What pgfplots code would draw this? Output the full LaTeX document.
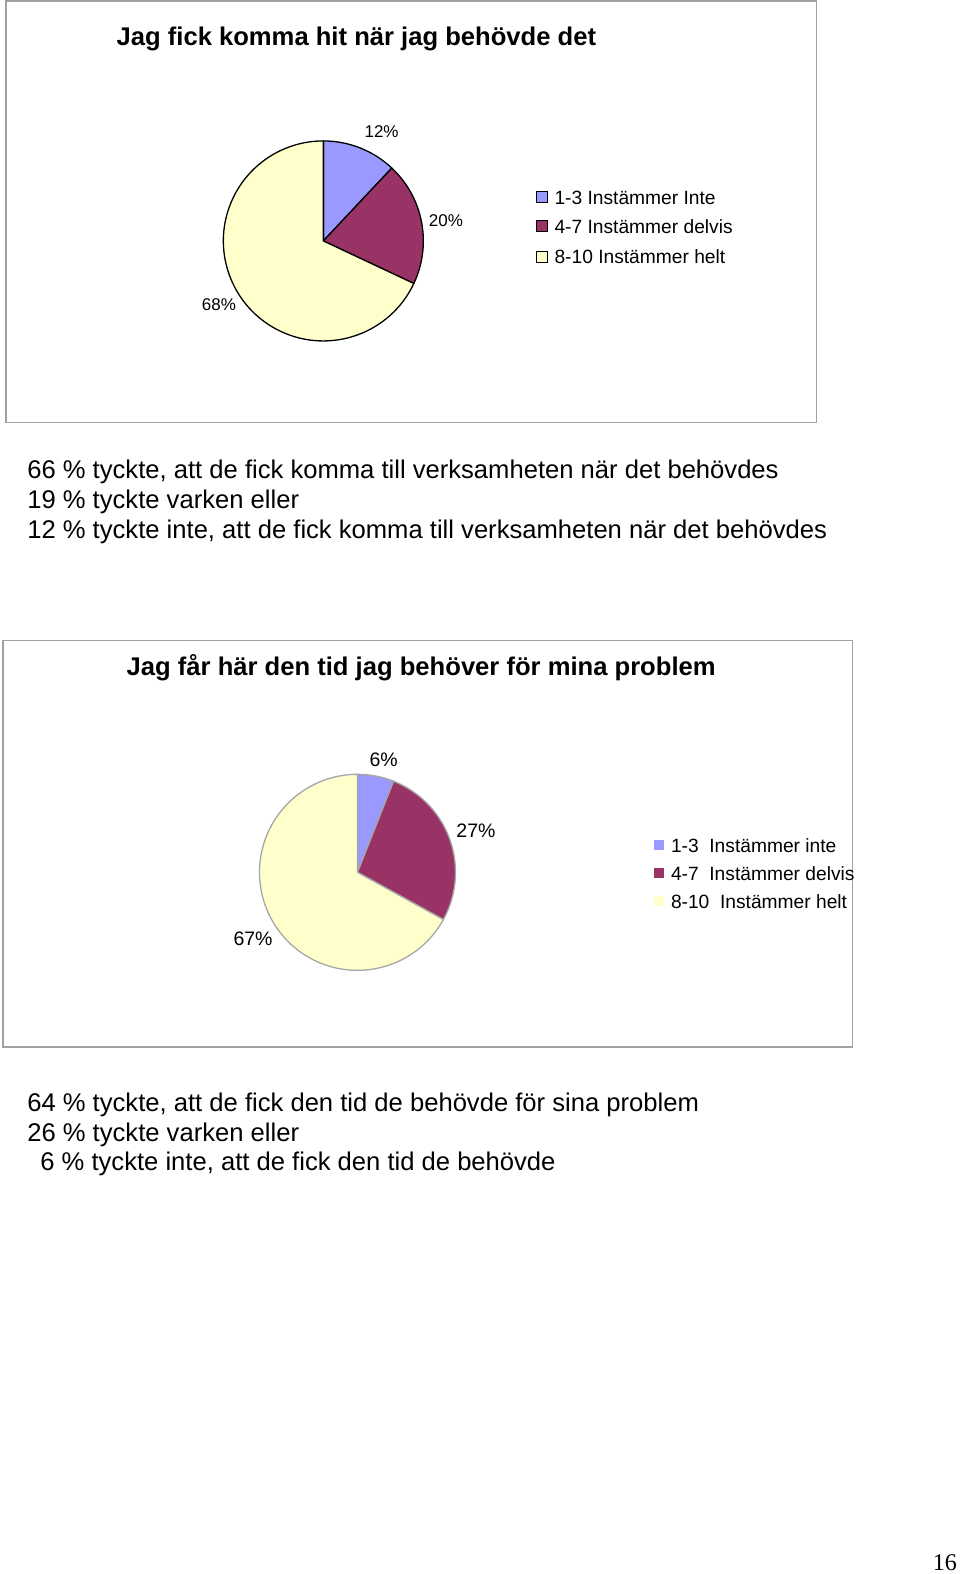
\documentclass[border=0pt]{standalone}
\usepackage{fontspec}
\setmainfont{Liberation Sans}
\newfontfamily\seriffont{Liberation Serif}
\usepackage{pgfplots}
\pgfplotsset{compat=1.18}
\definecolor{pblue}{HTML}{9999FF}
\definecolor{pred}{HTML}{993366}
\definecolor{pyel}{HTML}{FFFFCC}
\definecolor{frame}{HTML}{A0A0A0}
% slice: cx, cy, r, from (%), to (%), colour, outline
\newcommand{\pieslice}[7]{%
  \filldraw[fill=#6, draw=#7, line width=1.3bp, line join=round]
    (axis cs:#1,#2) -- ++({90-3.6*#4}:#3bp)
    arc[start angle={90-3.6*#4}, end angle={90-3.6*#5}, radius=#3bp] -- cycle;}
\newcommand{\fs}[1]{\fontsize{#1bp}{#1bp}\selectfont}
\begin{document}
\begin{tikzpicture}
\begin{axis}[
  at={(0bp,0bp)}, anchor=south west,
  scale only axis, width=960bp, height=1574bp,
  xmin=0, xmax=956, ymin=0, ymax=1568, y dir=reverse,
  hide axis, clip=false]
% frames
\draw[frame, line width=1.4bp] (axis cs:6,1) rectangle (axis cs:813,421);
\draw[frame, line width=1.4bp] (axis cs:3,638) rectangle (axis cs:849,1043);
% ---- chart 1: 12, 20, 68 ----
\node[anchor=base west, inner sep=0pt, font=\fs{25.6}\bfseries] at (axis cs:116,45) {Jag fick komma hit när jag behövde det};
\pieslice{322}{240}{100}{0}{12}{pblue}{black}
\pieslice{322}{240}{100}{12}{32}{pred}{black}
\pieslice{322}{240}{100}{32}{100}{pyel}{black}
\node[font=\fs{17}, inner sep=0pt] at (axis cs:380,131) {12\%};
\node[font=\fs{17}, inner sep=0pt] at (axis cs:444,220) {20\%};
\node[font=\fs{17}, inner sep=0pt] at (axis cs:218,303) {68\%};
\filldraw[fill=pblue, draw=black, line width=0.8bp] (axis cs:534,191) rectangle (axis cs:545,202);
\filldraw[fill=pred, draw=black, line width=0.8bp] (axis cs:534,220) rectangle (axis cs:545,231);
\filldraw[fill=pyel, draw=black, line width=0.8bp] (axis cs:534,250) rectangle (axis cs:545,261);
\node[anchor=west, font=\fs{19.2}, inner sep=0pt] at (axis cs:552,197) {1-3 Instämmer Inte};
\node[anchor=west, font=\fs{19.2}, inner sep=0pt] at (axis cs:552,226) {4-7 Instämmer delvis};
\node[anchor=west, font=\fs{19.2}, inner sep=0pt] at (axis cs:552,256) {8-10 Instämmer helt};
\node[anchor=base west, inner sep=0pt, font=\fs{25.6}] at (axis cs:27,477) {66 \% tyckte, att de fick komma till verksamheten när det behövdes};
\node[anchor=base west, inner sep=0pt, font=\fs{25.6}] at (axis cs:27,506.5) {19 \% tyckte varken eller};
\node[anchor=base west, inner sep=0pt, font=\fs{25.6}] at (axis cs:27,536) {12 \% tyckte inte, att de fick komma till verksamheten när det behövdes};
% ---- chart 2: 6, 27, 67 ----
\node[anchor=base west, inner sep=0pt, font=\fs{25.6}\bfseries] at (axis cs:126,673) {Jag får här den tid jag behöver för mina problem};
\pieslice{356}{869}{98}{0}{6}{pblue}{gray!70}
\pieslice{356}{869}{98}{6}{33}{pred}{gray!70}
\pieslice{356}{869}{98}{33}{100}{pyel}{gray!70}
\node[font=\fs{19.5}, inner sep=0pt] at (axis cs:382,757) {6\%};
\node[font=\fs{19.5}, inner sep=0pt] at (axis cs:474,828) {27\%};
\node[font=\fs{19.5}, inner sep=0pt] at (axis cs:252,935) {67\%};
\fill[pblue] (axis cs:651,837) rectangle (axis cs:661,847);
\fill[pred] (axis cs:651,865) rectangle (axis cs:661,875);
\fill[pyel] (axis cs:651,893) rectangle (axis cs:661,903);
\node[anchor=west, font=\fs{19.2}, inner sep=0pt] at (axis cs:668,842) {1-3\ \ Instämmer inte};
\node[anchor=west, font=\fs{19.2}, inner sep=0pt] at (axis cs:668,870) {4-7\ \ Instämmer delvis};
\node[anchor=west, font=\fs{19.2}, inner sep=0pt] at (axis cs:668,898) {8-10\ \ Instämmer helt};
\node[anchor=base west, inner sep=0pt, font=\fs{25.6}] at (axis cs:27,1107) {64 \% tyckte, att de fick den tid de behövde för sina problem};
\node[anchor=base west, inner sep=0pt, font=\fs{25.6}] at (axis cs:27,1137) {26 \% tyckte varken eller};
\node[anchor=base west, inner sep=0pt, font=\fs{25.6}] at (axis cs:40,1166) {6 \% tyckte inte, att de fick den tid de behövde};
% page number
\node[anchor=base, font=\seriffont\fs{24}, inner sep=0pt] at (axis cs:941,1564) {16};
\end{axis}
\pgfresetboundingbox
\path[use as bounding box] (0bp,0bp) rectangle (960bp,1574bp);
\end{tikzpicture}
\end{document}
